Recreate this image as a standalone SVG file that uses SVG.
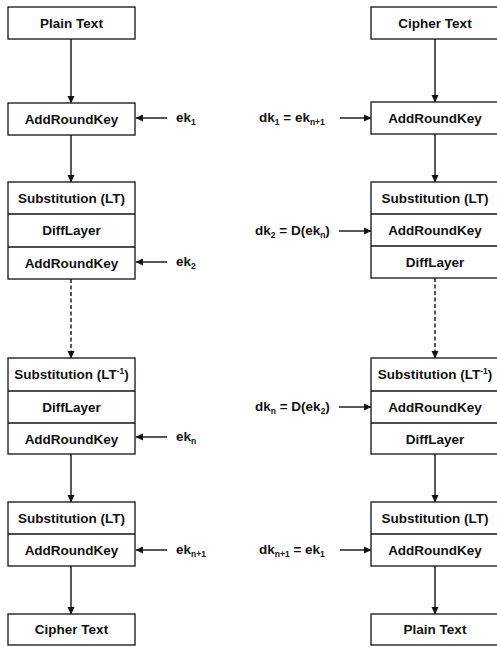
<svg xmlns="http://www.w3.org/2000/svg" width="497" height="647" viewBox="0 0 497 647">
<style>
.box{fill:#fff;stroke:#111;stroke-width:1.3}
.div{stroke:#111;stroke-width:1.3}
text{font-family:"Liberation Sans",Arial,sans-serif;font-weight:bold;font-size:13.5px;fill:#111}
.c{text-anchor:middle}
.sub{font-size:8.5px}
.ln{stroke:#111;stroke-width:1.4;fill:none}
.dash{stroke-dasharray:4,2.5}
</style>
<defs>
<marker id="ah" markerWidth="8" markerHeight="8" refX="7" refY="4" orient="auto" markerUnits="userSpaceOnUse">
<path d="M0,0.5 L7.5,4 L0,7.5 Z" fill="#111"/>
</marker>
</defs>
<rect width="497" height="647" fill="#fff"/>
<g id="connectors">
<line class="ln" x1="71" y1="39" x2="71" y2="103" marker-end="url(#ah)"/>
<line class="ln" x1="71" y1="135" x2="71" y2="182" marker-end="url(#ah)"/>
<line class="ln dash" x1="71" y1="279" x2="71" y2="358" marker-end="url(#ah)"/>
<line class="ln" x1="71" y1="454" x2="71" y2="502" marker-end="url(#ah)"/>
<line class="ln" x1="71" y1="566" x2="71" y2="614" marker-end="url(#ah)"/>
<line class="ln" x1="435" y1="39" x2="435" y2="102" marker-end="url(#ah)"/>
<line class="ln" x1="435" y1="134" x2="435" y2="182" marker-end="url(#ah)"/>
<line class="ln dash" x1="435" y1="278" x2="435" y2="358" marker-end="url(#ah)"/>
<line class="ln" x1="435" y1="454" x2="435" y2="502" marker-end="url(#ah)"/>
<line class="ln" x1="435" y1="566" x2="435" y2="614" marker-end="url(#ah)"/>
<line class="ln" x1="167" y1="118" x2="136" y2="118" marker-end="url(#ah)"/>
<line class="ln" x1="167" y1="262" x2="136" y2="262" marker-end="url(#ah)"/>
<line class="ln" x1="167" y1="437" x2="136" y2="437" marker-end="url(#ah)"/>
<line class="ln" x1="167" y1="550" x2="136" y2="550" marker-end="url(#ah)"/>
<line class="ln" x1="340" y1="118" x2="371" y2="118" marker-end="url(#ah)"/>
<line class="ln" x1="339" y1="231" x2="371" y2="231" marker-end="url(#ah)"/>
<line class="ln" x1="339" y1="407" x2="371" y2="407" marker-end="url(#ah)"/>
<line class="ln" x1="340" y1="550" x2="371" y2="550" marker-end="url(#ah)"/>
</g>
<g id="l-plain">
<rect class="box" x="8" y="7" width="127" height="32"/>
<text class="c" x="71.5" y="27.5">Plain  Text</text>
</g>
<g id="l-ark1">
<rect class="box" x="8" y="103" width="127" height="32"/>
<text class="c" x="71.5" y="123.5">AddRoundKey</text>
</g>
<g id="l-round1">
<rect class="box" x="8" y="182" width="127" height="97"/>
<line class="div" x1="8" y1="214" x2="135" y2="214"/>
<line class="div" x1="8" y1="247" x2="135" y2="247"/>
<text class="c" x="71.5" y="202.5">Substitution (LT)</text>
<text class="c" x="71.5" y="235">DiffLayer</text>
<text class="c" x="71.5" y="267.5">AddRoundKey</text>
</g>
<g id="l-roundn">
<rect class="box" x="8" y="358" width="127" height="96"/>
<line class="div" x1="8" y1="391" x2="135" y2="391"/>
<line class="div" x1="8" y1="423" x2="135" y2="423"/>
<text class="c" x="71.5" y="379">Substitution (LT<tspan class="sub" dy="-5">-1</tspan><tspan dy="5">)</tspan></text>
<text class="c" x="71.5" y="411.5">DiffLayer</text>
<text class="c" x="71.5" y="443.5">AddRoundKey</text>
</g>
<g id="l-final">
<rect class="box" x="8" y="502" width="127" height="64"/>
<line class="div" x1="8" y1="534" x2="135" y2="534"/>
<text class="c" x="71.5" y="522.5">Substitution (LT)</text>
<text class="c" x="71.5" y="554.5">AddRoundKey</text>
</g>
<g id="l-cipher">
<rect class="box" x="8" y="614" width="127" height="31"/>
<text class="c" x="71.5" y="634">Cipher  Text</text>
</g>
<g id="l-keys">
<text x="176" y="122">ek<tspan class="sub" dy="3">1</tspan></text>
<text x="176" y="266">ek<tspan class="sub" dy="3">2</tspan></text>
<text x="176" y="441">ek<tspan class="sub" dy="3">n</tspan></text>
<text x="176" y="554">ek<tspan class="sub" dy="3">n+1</tspan></text>
</g>
<g id="r-cipher">
<rect class="box" x="371" y="7" width="130" height="32"/>
<text class="c" x="435" y="27.5">Cipher  Text</text>
</g>
<g id="r-ark1">
<rect class="box" x="371" y="102" width="130" height="32"/>
<text class="c" x="435" y="122.5">AddRoundKey</text>
</g>
<g id="r-round1">
<rect class="box" x="371" y="182" width="130" height="96"/>
<line class="div" x1="371" y1="214" x2="501" y2="214"/>
<line class="div" x1="371" y1="246" x2="501" y2="246"/>
<text class="c" x="435" y="202.5">Substitution (LT)</text>
<text class="c" x="435" y="234.5">AddRoundKey</text>
<text class="c" x="435" y="266.5">DiffLayer</text>
</g>
<g id="r-roundn">
<rect class="box" x="371" y="358" width="130" height="96"/>
<line class="div" x1="371" y1="391" x2="501" y2="391"/>
<line class="div" x1="371" y1="423" x2="501" y2="423"/>
<text class="c" x="435" y="379">Substitution (LT<tspan class="sub" dy="-5">-1</tspan><tspan dy="5">)</tspan></text>
<text class="c" x="435" y="411.5">AddRoundKey</text>
<text class="c" x="435" y="443.5">DiffLayer</text>
</g>
<g id="r-final">
<rect class="box" x="371" y="502" width="130" height="64"/>
<line class="div" x1="371" y1="534" x2="501" y2="534"/>
<text class="c" x="435" y="522.5">Substitution (LT)</text>
<text class="c" x="435" y="554.5">AddRoundKey</text>
</g>
<g id="r-plain">
<rect class="box" x="371" y="614" width="130" height="31"/>
<text class="c" x="435" y="634">Plain Text</text>
</g>
<g id="r-keys">
<text x="259" y="122">dk<tspan class="sub" dy="3">1</tspan><tspan dy="-3"> = ek</tspan><tspan class="sub" dy="3">n+1</tspan></text>
<text x="255" y="235">dk<tspan class="sub" dy="3">2</tspan><tspan dy="-3"> = D(ek</tspan><tspan class="sub" dy="3">n</tspan><tspan dy="-3">)</tspan></text>
<text x="255" y="411">dk<tspan class="sub" dy="3">n</tspan><tspan dy="-3"> = D(ek</tspan><tspan class="sub" dy="3">2</tspan><tspan dy="-3">)</tspan></text>
<text x="259" y="554">dk<tspan class="sub" dy="3">n+1</tspan><tspan dy="-3"> = ek</tspan><tspan class="sub" dy="3">1</tspan></text>
</g>
</svg>
